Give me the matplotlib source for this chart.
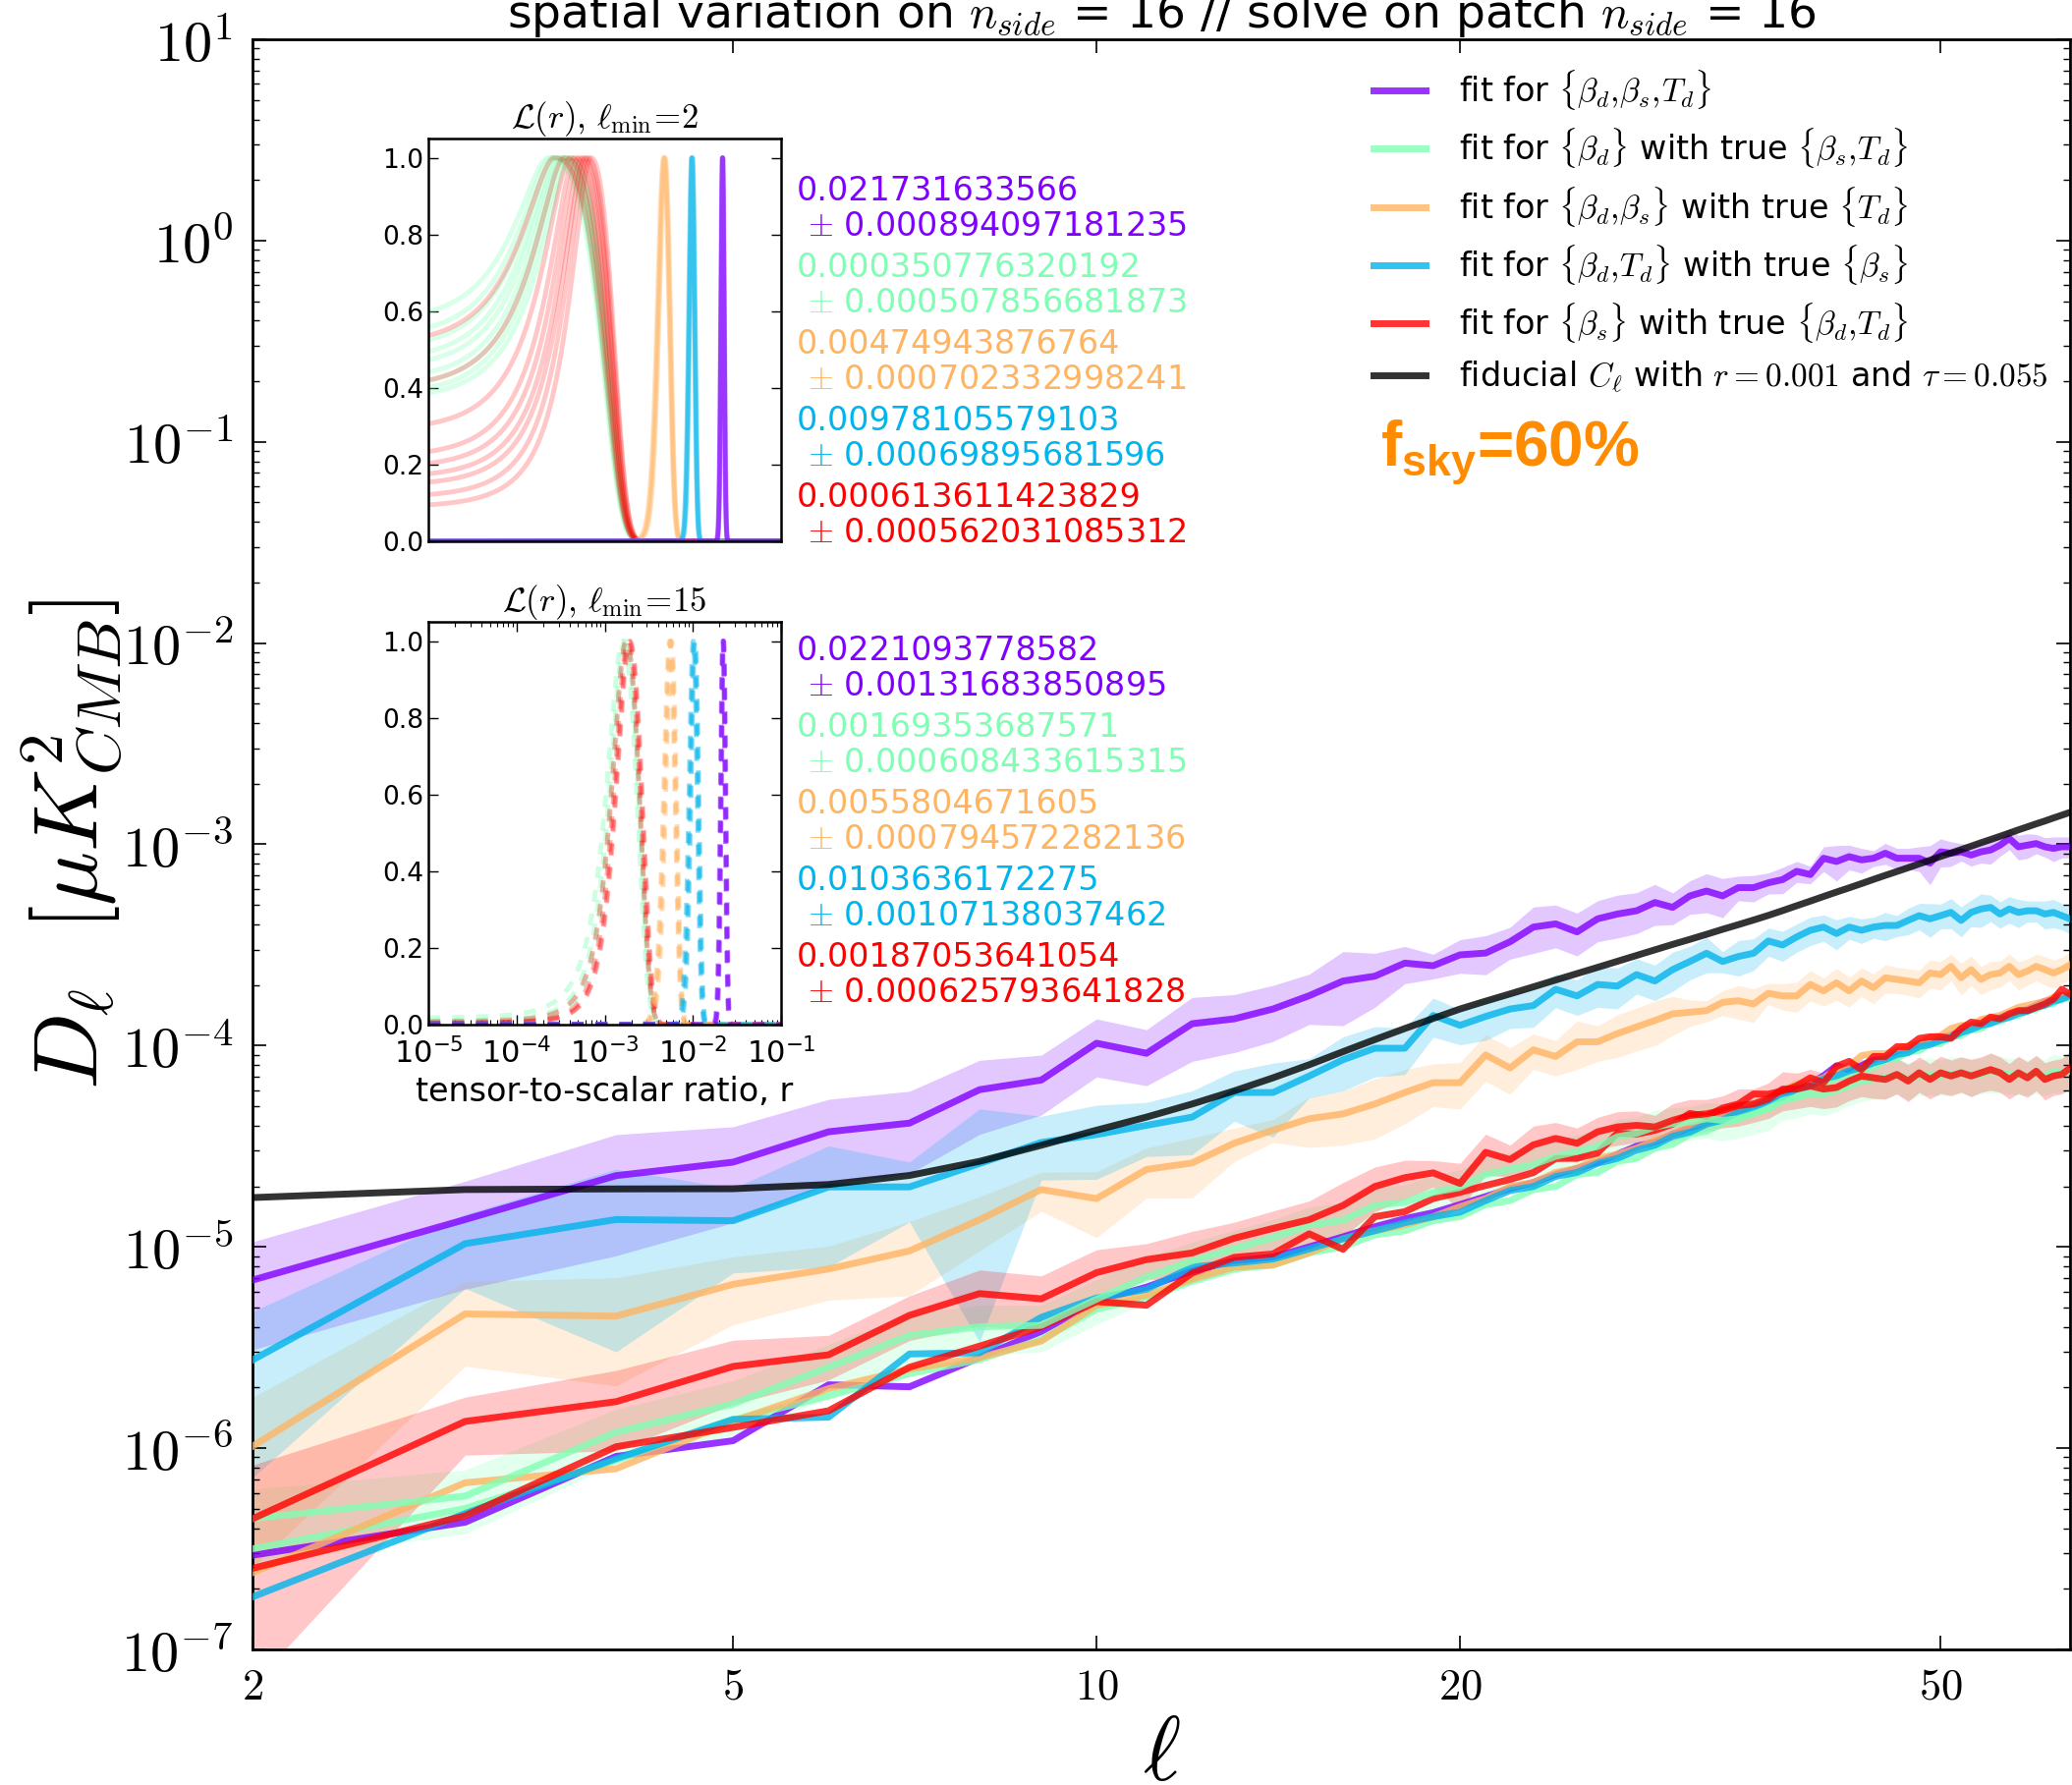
import numpy as np
import matplotlib
matplotlib.use('Agg')
import matplotlib.pyplot as plt
from matplotlib.ticker import FixedLocator, NullLocator, LogLocator, NullFormatter

plt.rcParams['font.family'] = ['DejaVu Sans']
plt.rcParams['mathtext.fontset'] = 'cm'
plt.rcParams['mathtext.bf'] = 'Liberation Sans:bold'
plt.rcParams['mathtext.rm'] = 'Liberation Sans'
plt.rcParams['mathtext.it'] = 'Liberation Sans:italic'

# ---------------- data (log10 of D_ell, ell = 2..64) ----------------
ell = np.arange(2, 65)

fiducial_log = [-4.755, -4.715, -4.712, -4.711, -4.690, -4.645, -4.575, -4.495, -4.420, -4.355,
                -4.290, -4.225, -4.160, -4.095, -4.030, -3.970, -3.915, -3.865, -3.818, -3.779,
                -3.743, -3.708, -3.674, -3.642, -3.611, -3.581, -3.552, -3.524, -3.497, -3.472,
                -3.447, -3.422, -3.399, -3.376, -3.353, -3.329, -3.305, -3.282, -3.259, -3.237,
                -3.216, -3.195, -3.174, -3.154, -3.135, -3.116, -3.097, -3.079, -3.060, -3.043,
                -3.026, -3.009, -2.992, -2.976, -2.960, -2.944, -2.928, -2.913, -2.898, -2.884,
                -2.869, -2.855, -2.841]

purple_res = [-5.165, -4.864, -4.646, -4.579, -4.428, -4.385, -4.219, -4.171, -3.988, -4.038,
              -3.891, -3.867, -3.818, -3.752, -3.679, -3.655, -3.590, -3.603, -3.549, -3.540,
              -3.484, -3.411, -3.395, -3.435, -3.370, -3.346, -3.330, -3.289, -3.313, -3.256,
              -3.232, -3.256, -3.215, -3.215, -3.191, -3.175, -3.134, -3.150, -3.069, -3.085,
              -3.061, -3.077, -3.069, -3.044, -3.069, -3.069, -3.069, -3.093, -3.037, -3.044,
              -3.037, -3.053, -3.037, -3.028, -3.004, -2.971, -3.012, -3.004, -2.996, -3.012,
              -3.020, -3.012, -3.012]
purple_sig = [.55, .55, .60, .50, .45, .44, .40, .33, .32, .31,
              .35, .32, .31, .28, .40, .30, .21, .14, .19, .22,
              .18, .26, .24, .24, .23, .24, .23, .23, .18, .19,
              .22, .22, .14, .15, .12, .15, .12, .10, .14, .20,
              .14, .14, .09, .12, .12, .12, .14, .22, .16, .14,
              .10, .12, .12, .15, .12, .12, .14, .14, .11, .11,
              .14, .12, .12]

green_res = [-6.350, -6.238, -5.921, -5.780, -5.598, -5.440, -5.397, -5.390, -5.260, -5.150,
             -5.070, -5.010, -4.955, -4.892, -4.868, -4.794, -4.778, -4.729, -4.705, -4.640,
             -4.615, -4.591, -4.550, -4.526, -4.501, -4.453, -4.436, -4.404, -4.387, -4.379,
             -4.363, -4.371, -4.363, -4.339, -4.314, -4.273, -4.257, -4.241, -4.241, -4.225,
             -4.200, -4.176, -4.168, -4.160, -4.143, -4.168, -4.151, -4.143, -4.151, -4.143,
             -4.135, -4.151, -4.143, -4.127, -4.135, -4.143, -4.143, -4.151, -4.135, -4.151,
             -4.127, -4.135, -4.127]
green_sig = [.40, .35, .30, .30, .30, .28, .28, .26, .25, .25,
             .24, .24, .23, .23, .22, .22, .22, .22, .22, .22,
             .21, .22, .20, .21, .20, .22, .20, .21, .20, .19,
             .20, .21, .20, .21, .22, .20, .21, .20, .22, .21,
             .20, .21, .20, .22, .20, .21, .20, .21, .20, .22,
             .20, .21, .20, .22, .21, .20, .21, .20, .21, .20,
             .22, .20, .21]

orange_res = [-5.991, -5.333, -5.344, -5.186, -5.110, -5.020, -4.865, -4.715, -4.760, -4.615,
              -4.583, -4.485, -4.420, -4.363, -4.339, -4.290, -4.233, -4.184, -4.184, -4.046,
              -4.111, -4.021, -4.054, -3.981, -3.981, -3.940, -3.907, -3.875, -3.842, -3.834,
              -3.826, -3.785, -3.777, -3.793, -3.740, -3.753, -3.753, -3.696, -3.728, -3.688,
              -3.728, -3.679, -3.712, -3.663, -3.671, -3.679, -3.688, -3.639, -3.647, -3.606,
              -3.663, -3.622, -3.671, -3.647, -3.639, -3.606, -3.647, -3.630, -3.606, -3.622,
              -3.639, -3.622, -3.598]
orange_sig = [.75, .45, .55, .37, .30, .40, .30, .22, .36, .28,
              .33, .19, .13, .28, .30, .33, .30, .24, .26, .26,
              .26, .20, .20, .27, .20, .24, .24, .25, .22, .15,
              .12, .14, .19, .19, .12, .15, .17, .17, .16, .18,
              .17, .16, .17, .16, .15, .15, .16, .16, .16, .15,
              .18, .17, .16, .16, .15, .15, .16, .15, .15, .16,
              .16, .15, .15]

blue_res = [-5.562, -4.984, -4.864, -4.870, -4.702, -4.702, -4.586, -4.481, -4.442, -4.396,
            -4.355, -4.233, -4.233, -4.151, -4.070, -4.013, -4.013, -3.850, -3.899, -3.855,
            -3.818, -3.801, -3.720, -3.753, -3.696, -3.704, -3.647, -3.679, -3.622, -3.582,
            -3.541, -3.582, -3.557, -3.541, -3.480, -3.500, -3.460, -3.427, -3.411, -3.443,
            -3.411, -3.427, -3.411, -3.403, -3.403, -3.378, -3.354, -3.370, -3.354, -3.338,
            -3.378, -3.338, -3.321, -3.313, -3.346, -3.321, -3.338, -3.330, -3.330, -3.346,
            -3.338, -3.354, -3.370]
blue_sig = [.74, .40, .78, .45, .60, .33, .87, .35, .40, .30,
            .35, .28, .40, .22, .30, .28, .26, .22, .20, .24,
            .20, .22, .19, .20, .23, .23, .20, .20, .22, .19,
            .20, .12, .20, .18, .16, .17, .16, .16, .15, .17,
            .13, .14, .12, .16, .12, .15, .15, .19, .14, .17,
            .17, .15, .19, .15, .15, .15, .16, .12, .12, .16,
            .16, .15, .16]

red_res = [-6.351, -5.867, -5.769, -5.594, -5.536, -5.340, -5.232, -5.258, -5.128, -5.063,
           -5.030, -4.957, -4.908, -4.865, -4.794, -4.700, -4.656, -4.632, -4.685, -4.530,
           -4.566, -4.493, -4.461, -4.485, -4.428, -4.404, -4.396, -4.404, -4.371, -4.347,
           -4.339, -4.322, -4.298, -4.290, -4.265, -4.216, -4.216, -4.200, -4.216, -4.208,
           -4.176, -4.151, -4.160, -4.168, -4.143, -4.176, -4.135, -4.168, -4.135, -4.151,
           -4.135, -4.151, -4.135, -4.119, -4.135, -4.168, -4.135, -4.160, -4.127, -4.168,
           -4.151, -4.143, -4.111]
red_sig = [.85, .32, .43, .35, .25, .25, .31, .30, .30, .20,
           .28, .20, .22, .24, .30, .25, .22, .15, .26, .23,
           .18, .24, .20, .19, .18, .19, .18, .14, .21, .20,
           .18, .18, .21, .19, .20, .22, .20, .21, .20, .20,
           .20, .21, .21, .20, .20, .21, .20, .20, .21, .20,
           .20, .21, .20, .21, .20, .20, .21, .20, .20, .21,
           .20, .20, .21]

# noise-like lower curves for each fit
purple_low = [-6.532, -6.368, -6.041, -5.963, -5.685, -5.695, -5.550, -5.420, -5.270, -5.200,
              -5.120, -5.070, -5.050, -5.000, -4.950, -4.900, -4.860, -4.830, -4.790, -4.750,
              -4.710, -4.680, -4.640, -4.610, -4.580, -4.540, -4.500, -4.480, -4.440, -4.410,
              -4.380, -4.350, -4.320, -4.300, -4.270, -4.240, -4.200, -4.190, -4.150, -4.100,
              -4.120, -4.100, -4.070, -4.060, -4.030, -4.020, -3.990, -3.985, -3.960, -3.950,
              -3.920, -3.900, -3.895, -3.870, -3.860, -3.845, -3.830, -3.820, -3.800, -3.780,
              -3.770, -3.750, -3.760]
green_low = [-6.500, -6.300, -6.060, -5.860, -5.740, -5.630, -5.560, -5.460, -5.310, -5.250,
             -5.170, -5.110, -5.090, -5.030, -5.000, -4.940, -4.920, -4.870, -4.850, -4.790,
             -4.770, -4.715, -4.700, -4.640, -4.630, -4.575, -4.560, -4.510, -4.490, -4.440,
             -4.425, -4.385, -4.365, -4.325, -4.310, -4.265, -4.250, -4.210, -4.200, -4.160,
             -4.150, -4.115, -4.110, -4.070, -4.065, -4.030, -4.025, -3.990, -3.990, -3.955,
             -3.950, -3.920, -3.915, -3.885, -3.880, -3.855, -3.850, -3.825, -3.820, -3.795,
             -3.790, -3.765, -3.765]
orange_low = [-6.619, -6.172, -6.102, -5.867, -5.704, -5.607, -5.550, -5.468, -5.291, -5.240,
              -5.160, -5.100, -5.090, -5.030, -4.960, -4.920, -4.890, -4.850, -4.800, -4.760,
              -4.700, -4.680, -4.630, -4.610, -4.560, -4.540, -4.510, -4.470, -4.440, -4.400,
              -4.380, -4.340, -4.320, -4.290, -4.260, -4.230, -4.190, -4.180, -4.160, -4.120,
              -4.100, -4.050, -4.040, -4.040, -4.020, -4.000, -3.990, -3.960, -3.950, -3.915,
              -3.900, -3.900, -3.870, -3.860, -3.850, -3.830, -3.810, -3.800, -3.790, -3.780,
              -3.760, -3.750, -3.740]
blue_low = [-6.739, -6.325, -6.052, -5.857, -5.846, -5.532, -5.526, -5.350, -5.254, -5.210,
            -5.100, -5.080, -5.060, -5.010, -4.960, -4.920, -4.880, -4.850, -4.827, -4.770,
            -4.720, -4.700, -4.650, -4.630, -4.585, -4.560, -4.520, -4.495, -4.450, -4.430,
            -4.390, -4.370, -4.330, -4.310, -4.275, -4.255, -4.215, -4.200, -4.165, -4.150,
            -4.125, -4.110, -4.085, -4.070, -4.045, -4.035, -4.005, -3.995, -3.975, -3.960,
            -3.935, -3.920, -3.900, -3.890, -3.870, -3.860, -3.840, -3.830, -3.810, -3.800,
            -3.780, -3.770, -3.750]
red_low = [-6.597, -6.336, -5.993, -5.897, -5.814, -5.598, -5.493, -5.397, -5.272, -5.290,
           -5.130, -5.052, -5.035, -4.935, -5.012, -4.850, -4.825, -4.760, -4.729, -4.695,
           -4.665, -4.631, -4.561, -4.560, -4.533, -4.435, -4.440, -4.421, -4.390, -4.337,
           -4.351, -4.310, -4.290, -4.240, -4.241, -4.225, -4.200, -4.160, -4.184, -4.103,
           -4.078, -4.119, -4.054, -4.054, -4.005, -4.005, -3.964, -3.956, -3.956, -3.964,
           -3.915, -3.883, -3.891, -3.858, -3.867, -3.842, -3.826, -3.826, -3.810, -3.793,
           -3.769, -3.720, -3.745]

labels = [r'fit for $\{\beta_d,\!\beta_s,\!T_d\}$',
          r'fit for $\{\beta_d\}$ with true $\{\beta_s,\!T_d\}$',
          r'fit for $\{\beta_d,\!\beta_s\}$ with true $\{T_d\}$',
          r'fit for $\{\beta_d,\!T_d\}$ with true $\{\beta_s\}$',
          r'fit for $\{\beta_s\}$ with true $\{\beta_d,\!T_d\}$']
fid_label = r'fiducial $C_\ell$ with $r=0.001$ and $\tau=0.055$'

# likelihood summaries and individual likelihood curves (peak, left width, right width)
means_l2 = ['0.021731633566', '0.000350776320192', '0.00474943876764', '0.00978105579103', '0.000613611423829']
sigmas_l2 = ['0.000894097181235', '0.000507856681873', '0.000702332998241', '0.00069895681596', '0.000562031085312']
means_l15 = ['0.0221093778582', '0.00169353687571', '0.0055804671605', '0.0103636172275', '0.00187053641054']
sigmas_l15 = ['0.00131683850895', '0.000608433615315', '0.000794572282136', '0.00107138037462', '0.000625793641828']

l2_green_mu = [2.3e-4, 2.5e-4, 2.7e-4, 2.9e-4, 3.1e-4, 3.3e-4, 3.5e-4, 3.7e-4, 4.1e-4]
l2_green_sl = [2.17e-4, 2.22e-4, 2.29e-4, 2.36e-4, 2.45e-4, 2.50e-4, 2.58e-4, 2.66e-4, 2.90e-4]
l2_green_sr = [5.8e-4, 6.0e-4, 5.7e-4, 6.1e-4, 5.8e-4, 5.9e-4, 5.7e-4, 6.0e-4, 5.8e-4]
l2_red_mu = [2.7e-4, 3.5e-4, 4.1e-4, 4.6e-4, 5.1e-4, 5.6e-4, 6.0e-4, 6.4e-4, 7.0e-4]
l2_red_sl = [2.33e-4, 2.58e-4, 2.60e-4, 2.64e-4, 2.80e-4, 2.95e-4, 3.05e-4, 3.07e-4, 3.18e-4]
l2_red_sr = [5.9e-4, 5.7e-4, 5.5e-4, 5.6e-4, 5.3e-4, 5.4e-4, 5.2e-4, 5.3e-4, 5.1e-4]
l2_orange_mu = [0.00465, 0.00475, 0.00485]
l2_orange_sd = [0.00070, 0.00070, 0.00070]
l2_blue_mu = [0.00965, 0.00978, 0.00991]
l2_blue_sd = [0.00070, 0.00070, 0.00070]
l2_purple_mu = [0.02155, 0.02173, 0.02191]
l2_purple_sd = [0.00089, 0.00089, 0.00089]

l15_green_mu = [1.60e-3, 1.68e-3, 1.75e-3]
l15_green_sl = [5.6e-4, 5.5e-4, 5.5e-4]
l15_green_sr = [7.0e-4, 7.2e-4, 7.0e-4]
l15_red_mu = [1.75e-3, 1.82e-3, 1.88e-3, 1.92e-3]
l15_red_sl = [5.6e-4, 5.5e-4, 5.6e-4, 5.7e-4]
l15_red_sr = [7.2e-4, 7.0e-4, 7.1e-4, 7.3e-4]
l15_orange_mu = [0.00545, 0.00558, 0.00572]
l15_orange_sd = [0.00079, 0.00080, 0.00079]
l15_blue_mu = [0.0101, 0.01036, 0.0106]
l15_blue_sd = [0.00107, 0.00107, 0.00107]
l15_purple_mu = [0.0218, 0.02211, 0.0224]
l15_purple_sd = [0.00132, 0.00131, 0.00132]

# ---------------- styling ----------------
C_PURPLE = (0.5, 0.0, 1.0)
C_BLUE = (0.0, 0.707, 0.924)
C_GREEN = (0.5, 1.0, 0.707)
C_ORANGE = (1.0, 0.707, 0.383)
C_RED = (1.0, 0.0, 0.0)

W, H = 2109, 1817
fig = plt.figure(figsize=(W / 100, H / 100), dpi=100)

def fx(px):
    return px / W

def fy(py):
    return 1 - py / H

ax = fig.add_axes([fx(257), fy(1679), fx(2107) - fx(257), fy(40) - fy(1679)])
ax.set_xscale('log')
ax.set_yscale('log')

LW = 5.0
series = [(purple_res, purple_sig, purple_low, C_PURPLE, labels[0]),
          (green_res, green_sig, green_low, C_GREEN, labels[1]),
          (orange_res, orange_sig, orange_low, C_ORANGE, labels[2]),
          (blue_res, blue_sig, blue_low, C_BLUE, labels[3]),
          (red_res, red_sig, red_low, C_RED, labels[4])]

for res, sig, low, col, lab in series:
    m = np.power(10.0, np.array(res))
    s = np.array(sig)
    ax.fill_between(ell, m * (1 - s), m * (1 + s), color=col, alpha=0.22, lw=0, zorder=1)
for res, sig, low, col, lab in series:
    ax.plot(ell, np.power(10.0, np.array(low)), color=col, lw=LW, alpha=0.8, zorder=3)
for res, sig, low, col, lab in series:
    ax.plot(ell, np.power(10.0, np.array(res)), color=col, lw=LW, alpha=0.8, zorder=4, label=lab)
ax.plot(ell, np.power(10.0, np.array(fiducial_log)), color='black', lw=LW, alpha=0.8, zorder=5, label=fid_label)

ax.set_xlim(2, 64)
ax.set_ylim(1e-7, 1e1)
ax.xaxis.set_major_locator(FixedLocator([2, 5, 10, 20, 50]))
ax.xaxis.set_minor_locator(NullLocator())
ax.set_xticklabels([r'$2$', r'$5$', r'$10$', r'$20$', r'$50$'], fontsize=32)
yt = [10.0 ** k for k in range(-7, 2)]
ax.yaxis.set_major_locator(FixedLocator(yt))
ax.set_yticklabels([r'$10^{%d}$' % k for k in range(-7, 2)], fontsize=42)
ax.yaxis.set_minor_locator(LogLocator(base=10, subs=np.arange(2, 10)))
ax.yaxis.set_minor_formatter(NullFormatter())
ax.tick_params(which='both', direction='in', top=True, right=True)
ax.tick_params(which='major', length=10, width=1.2)
ax.tick_params(which='minor', length=5, width=1.0)
ax.tick_params(axis='y', which='major', pad=14)
ax.tick_params(axis='x', which='major', pad=12)
for sp in ax.spines.values():
    sp.set_linewidth(2.0)

ax.set_xlabel(r'$\ell$', fontsize=66, labelpad=2)
ax.set_ylabel(r'$D_\ell\ \ [\mu K^2_{CMB}]$', fontsize=66)
ax.yaxis.set_label_coords(-0.071, 0.5)
ax.set_title(r'spatial variation on $n_{side}$ = 16 // solve on patch $n_{side}$ = 16',
             fontsize=34, pad=9)

leg = ax.legend(loc='upper left', bbox_to_anchor=(fx(1398), fy(69)), bbox_transform=fig.transFigure,
                frameon=False, fontsize=24, handlelength=1.6, handletextpad=1.0,
                labelspacing=0.43, borderaxespad=0, borderpad=0)
for lh in leg.get_lines():
    lh.set_linewidth(LW)

fig.text(fx(1405), fy(461), r'$\mathbf{f_{sky}}$=60%', color='#FF8C00', fontsize=46,
         fontfamily='Liberation Sans', fontweight='bold',
         math_fontfamily='custom', va='center', ha='left')

# ---------------- insets ----------------
r = np.logspace(-5, -1, 3000)

def split_gauss(mu, sl, sr):
    sd = np.where(r < mu, sl, sr)
    return np.exp(-0.5 * ((r - mu) / sd) ** 2)

def style_inset(a):
    a.set_xscale('log')
    a.set_xlim(1e-5, 1e-1)
    a.set_ylim(0, 1.05)
    a.set_yticks([0.0, 0.2, 0.4, 0.6, 0.8, 1.0])
    a.set_yticklabels(['0.0', '0.2', '0.4', '0.6', '0.8', '1.0'], fontsize=19)
    a.tick_params(which='both', direction='in', top=True, right=True)
    a.tick_params(which='major', length=7, width=1.0)
    a.tick_params(which='minor', length=3.5, width=0.8)
    for sp in a.spines.values():
        sp.set_linewidth(1.8)

ax1 = fig.add_axes([fx(436), fy(551), fx(795) - fx(436), fy(141) - fy(551)])
style_inset(ax1)
ax1.xaxis.set_major_locator(NullLocator())
ax1.xaxis.set_minor_locator(NullLocator())
for mu, sl, sr in zip(l2_green_mu, l2_green_sl, l2_green_sr):
    ax1.plot(r, split_gauss(mu, sl, sr), color=C_GREEN, lw=3.5, alpha=0.3)
for mu, sl, sr in zip(l2_red_mu, l2_red_sl, l2_red_sr):
    ax1.plot(r, split_gauss(mu, sl, sr), color=C_RED, lw=3.5, alpha=0.22)
for mus, sds, col in [(l2_orange_mu, l2_orange_sd, C_ORANGE), (l2_blue_mu, l2_blue_sd, C_BLUE),
                      (l2_purple_mu, l2_purple_sd, C_PURPLE)]:
    for mu, sd in zip(mus, sds):
        ax1.plot(r, split_gauss(mu, sd, sd), color=col, lw=3.5, alpha=0.4)
ax1.set_title(r'$\mathcal{L}(r),\,\ell_{\rm min}\!=\!2$', fontsize=25, pad=5)

ax2 = fig.add_axes([fx(436), fy(1043), fx(795) - fx(436), fy(633) - fy(1043)])
style_inset(ax2)
ax2.xaxis.set_major_locator(LogLocator(base=10, numticks=10))
ax2.xaxis.set_minor_locator(LogLocator(base=10, subs=np.arange(2, 10), numticks=20))
ax2.xaxis.set_minor_formatter(NullFormatter())
ax2.tick_params(axis='x', which='major', labelsize=22, pad=9)
for mus, sls, srs, col, al in [(l15_green_mu, l15_green_sl, l15_green_sr, C_GREEN, 0.4),
                               (l15_red_mu, l15_red_sl, l15_red_sr, C_RED, 0.3)]:
    for mu, sl, sr in zip(mus, sls, srs):
        ax2.plot(r, split_gauss(mu, sl, sr), color=col, lw=3.5, alpha=al, linestyle=(0, (2.5, 2.5)))
for mus, sds, col in [(l15_orange_mu, l15_orange_sd, C_ORANGE), (l15_blue_mu, l15_blue_sd, C_BLUE),
                      (l15_purple_mu, l15_purple_sd, C_PURPLE)]:
    for mu, sd in zip(mus, sds):
        ax2.plot(r, split_gauss(mu, sd, sd), color=col, lw=3.5, alpha=0.45, linestyle=(0, (2.5, 2.5)))
ax2.set_title(r'$\mathcal{L}(r),\,\ell_{\rm min}\!=\!15$', fontsize=25, pad=5)
ax2.set_xlabel('tensor-to-scalar ratio, r', fontsize=24, labelpad=5)

# annotations beside insets
ann_cols = [C_PURPLE, C_GREEN, C_ORANGE, C_BLUE, C_RED]
for i in range(5):
    y1 = 194 + 78 * i
    fig.text(fx(811), fy(y1), means_l2[i], color=ann_cols[i], fontsize=24, va='center', ha='left')
    fig.text(fx(822), fy(y1 + 36), r'$\pm$ ' + sigmas_l2[i], color=ann_cols[i], fontsize=24,
             va='center', ha='left')
    y2 = 662 + 78 * i
    fig.text(fx(811), fy(y2), means_l15[i], color=ann_cols[i], fontsize=24, va='center', ha='left')
    fig.text(fx(822), fy(y2 + 36), r'$\pm$ ' + sigmas_l15[i], color=ann_cols[i], fontsize=24,
             va='center', ha='left')

fig.savefig('out.png', dpi=100)
